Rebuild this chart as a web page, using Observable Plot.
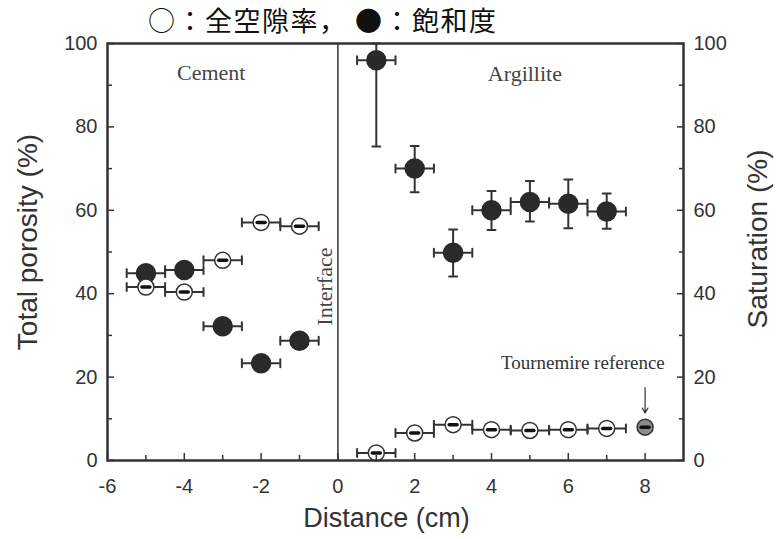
<!DOCTYPE html>
<html><head><meta charset="utf-8">
<script src="https://cdn.jsdelivr.net/npm/d3@7"></script>
<script src="https://cdn.jsdelivr.net/npm/@observablehq/plot@0.6"></script>
<style>
body{margin:0;background:#fff;}
#title{box-sizing:border-box;height:40px;width:778px;padding-left:148px;font-family:"Noto Sans CJK JP";font-size:27px;line-height:40px;letter-spacing:1.5px;color:#111;white-space:pre;}
</style></head><body>
<div id="title">○：全空隙率， ●：飽和度</div>
<div id="chart"></div>
<script>
// ---- data ----
const cementX = [-5, -4, -3, -2, -1];
const cementPorosity = [41.6, 40.4, 48, 57.1, 56.2];
const cementSaturation = [44.9, 45.7, 32.2, 23.3, 28.7];
const argilliteX = [1, 2, 3, 4, 5, 6, 7];
const argillitePorosity = [1.8, 6.6, 8.6, 7.4, 7.2, 7.4, 7.7];
const argilliteSaturation = [96, 70, 49.8, 60, 62, 61.6, 59.7];
const argilliteSatLow = [75.3, 64.3, 44.1, 55.3, 57.3, 55.7, 55.6];
const argilliteSatHigh = [100, 75.4, 55.4, 64.6, 67, 67.4, 64];
const xError = 0.5;
const referenceX = [8];
const referencePorosity = [8.0];
const arrowFrom = [17.5];
const arrowTo = [11.4];
const xMajorTicks = [-6, -4, -2, 0, 2, 4, 6, 8];
const xMinorTicks = [-5, -3, -1, 1, 3, 5, 7];
const yMajorTicks = [0, 20, 40, 60, 80, 100];
const yMinorTicks = [10, 30, 50, 70, 90];
const regionLabels = [
  {x: -3.3, y: 93, text: "Cement"},
  {x: 4.87, y: 92.8, text: "Argillite"}
];
const interfaceLabel = [{x: -0.35, y: 41.7, text: "Interface"}];
const referenceLabel = [{x: 6.38, y: 23.5, text: "Tournemire reference"}];

// ---- build tables ----
const porosityPts = cementX.map((x, i) => ({x, y: cementPorosity[i]}))
  .concat(argilliteX.map((x, i) => ({x, y: argillitePorosity[i]})));
const saturationPts = cementX.map((x, i) => ({x, y: cementSaturation[i]}))
  .concat(argilliteX.map((x, i) => ({x, y: argilliteSaturation[i]})));
const argSat = argilliteX.map((x, i) => ({x, y: argilliteSaturation[i], lo: argilliteSatLow[i], hi: argilliteSatHigh[i]}));
const allPts = porosityPts.concat(saturationPts);
const hCaps = allPts.flatMap(d => [{x: d.x - xError, y: d.y}, {x: d.x + xError, y: d.y}]);
const vCaps = argSat.flatMap(d => [{x: d.x, y: d.lo}, {x: d.x, y: d.hi}]);
const refPts = referenceX.map((x, i) => ({x, y: referencePorosity[i], y1: arrowFrom[i], y2: arrowTo[i]}));

const lineShape = {draw(ctx, l) { ctx.moveTo(0, 0); ctx.lineTo(0, -l); }};
const INK = "#333";
const sans = "'Liberation Sans', Arial, sans-serif";
const serif = "'Liberation Serif', 'Times New Roman', serif";
const fmt = d => String(d);

const chart = Plot.plot({
  width: 778,
  height: 499,
  marginTop: 3,
  marginBottom: 79,
  marginLeft: 107,
  marginRight: 95,
  style: {fontFamily: sans, fontSize: "20px", color: INK, overflow: "visible", background: "transparent"},
  x: {domain: [-6, 9]},
  y: {domain: [0, 100]},
  marks: [
    Plot.ruleX([0], {stroke: INK, strokeWidth: 1.5}),
    // horizontal error bars
    Plot.ruleY(allPts, {y: "y", x1: d => d.x - xError, x2: d => d.x + xError, stroke: INK, strokeWidth: 2}),
    Plot.vector(hCaps, {x: "x", y: "y", length: 8, rotate: 0, anchor: "middle", shape: lineShape, stroke: INK, strokeWidth: 2}),
    // vertical error bars (argillite saturation)
    Plot.ruleX(argSat, {x: "x", y1: "lo", y2: "hi", stroke: INK, strokeWidth: 2}),
    Plot.vector(vCaps, {x: "x", y: "y", length: 8, rotate: 90, anchor: "middle", shape: lineShape, stroke: INK, strokeWidth: 2}),
    // saturation (filled)
    Plot.dot(saturationPts, {x: "x", y: "y", r: 9.5, fill: "#2a2a2a", stroke: "#2a2a2a"}),
    // porosity (open)
    Plot.dot(porosityPts, {x: "x", y: "y", r: 8, fill: "white", stroke: INK, strokeWidth: 1.5}),
    Plot.vector(porosityPts, {x: "x", y: "y", length: 8, rotate: 90, anchor: "middle", shape: lineShape, stroke: "#111", strokeWidth: 3.5}),
    // reference
    Plot.dot(refPts, {x: "x", y: "y", r: 8, fill: "#8c8c8c", stroke: INK, strokeWidth: 1.5}),
    Plot.vector(refPts, {x: "x", y: "y", length: 8, rotate: 90, anchor: "middle", shape: lineShape, stroke: "#111", strokeWidth: 3.5}),
    Plot.arrow(refPts, {x1: "x", x2: "x", y1: "y1", y2: "y2", stroke: INK, strokeWidth: 1.2, headLength: 7}),
    // labels
    Plot.text(regionLabels, {x: "x", y: "y", text: "text", fontFamily: serif, fontSize: 22, fill: "#444"}),
    Plot.text(interfaceLabel, {x: "x", y: "y", text: "text", rotate: -90, fontFamily: serif, fontSize: 22, fill: "#444"}),
    Plot.text(referenceLabel, {x: "x", y: "y", text: "text", fontFamily: serif, fontSize: 19, fill: "#333"}),
    // frame
    Plot.frame({stroke: INK, strokeWidth: 2.5}),
    // axes
    Plot.axisX({ticks: xMajorTicks, tickSize: 0, tickPadding: 18, fontSize: 20, tickFormat: fmt, label: null, fill: INK}),
    Plot.axisX({ticks: xMajorTicks, tickSize: -7, tickFormat: () => "", label: null, stroke: INK, strokeWidth: 1.5}),
    Plot.axisX({ticks: xMinorTicks, tickSize: -5, tickFormat: () => "", label: null, stroke: INK, strokeWidth: 1.5}),
    Plot.axisY({ticks: yMajorTicks, tickSize: 0, tickPadding: 10, fontSize: 20, tickFormat: fmt, label: null, fill: INK}),
    Plot.axisY({ticks: yMajorTicks, tickSize: -7, tickFormat: () => "", label: null, stroke: INK, strokeWidth: 1.5}),
    Plot.axisY({ticks: yMinorTicks, tickSize: -5, tickFormat: () => "", label: null, stroke: INK, strokeWidth: 1.5}),
    Plot.axisY({anchor: "right", ticks: yMajorTicks, tickSize: 0, tickPadding: 10, fontSize: 20, tickFormat: fmt, label: null, fill: INK}),
    Plot.axisY({anchor: "right", ticks: yMajorTicks, tickSize: -7, tickFormat: () => "", label: null, stroke: INK, strokeWidth: 1.5}),
    Plot.axisY({anchor: "right", ticks: yMinorTicks, tickSize: -5, tickFormat: () => "", label: null, stroke: INK, strokeWidth: 1.5}),
    // axis titles
    Plot.text(["Total porosity (%)"], {frameAnchor: "left", text: d => d, textAnchor: "middle", lineAnchor: "middle", rotate: -90, dx: -79, dy: -10, fontSize: 28, fill: INK}),
    Plot.text(["Saturation (%)"], {frameAnchor: "right", text: d => d, textAnchor: "middle", lineAnchor: "middle", rotate: -90, dx: 75, dy: -13, fontSize: 28, fill: INK}),
    Plot.text(["Distance (cm)"], {frameAnchor: "bottom", text: d => d, dx: -9, dy: 66, fontSize: 27, fill: INK})
  ]
});
document.getElementById("chart").appendChild(chart);
</script></body></html>
